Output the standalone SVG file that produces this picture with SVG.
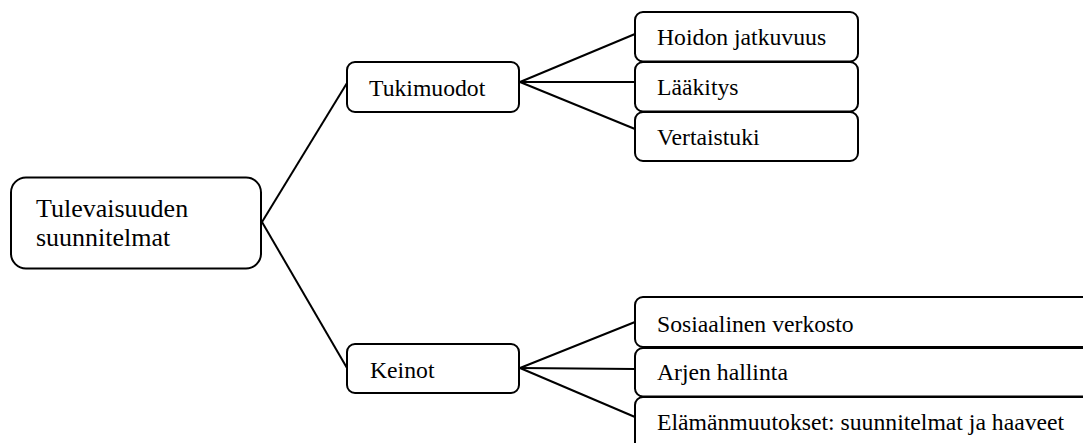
<svg xmlns="http://www.w3.org/2000/svg" width="1083" height="443" viewBox="0 0 1083 443">
<style>
.box{fill:#fff;stroke:#000;stroke-width:2}
.t{font-family:"Liberation Serif","Times New Roman",serif;font-size:23.7px;fill:#000}
.big{font-size:26px}
.edge{stroke:#000;stroke-width:2;fill:none}
</style>
<rect width="1083" height="443" fill="#fff"/>
<g id="connectors">
<line class="edge" x1="262" y1="222" x2="347" y2="83"/>
<line class="edge" x1="262" y1="222" x2="347" y2="368"/>
<line class="edge" x1="520" y1="82" x2="635" y2="34"/>
<line class="edge" x1="520" y1="82" x2="635" y2="82"/>
<line class="edge" x1="520" y1="82" x2="635" y2="129"/>
<line class="edge" x1="520" y1="368" x2="635" y2="322"/>
<line class="edge" x1="520" y1="368" x2="635" y2="369"/>
<line class="edge" x1="520" y1="368" x2="635" y2="417"/>
</g>
<g id="root">
<rect class="box" x="11" y="177.5" width="250" height="91" rx="15"/>
<text class="t big" x="36" y="217">Tulevaisuuden</text>
<text class="t big" x="36" y="246">suunnitelmat</text>
</g>
<g id="tukimuodot">
<rect class="box" x="347" y="62" width="172" height="50" rx="8"/>
<text class="t" x="369" y="96">Tukimuodot</text>
</g>
<g id="keinot">
<rect class="box" x="347" y="344" width="172" height="49" rx="8"/>
<text class="t" x="370" y="378">Keinot</text>
</g>
<g id="hoidon">
<rect class="box" x="635" y="12" width="223" height="49.5" rx="8"/>
<text class="t" x="657" y="45">Hoidon jatkuvuus</text>
</g>
<g id="laakitys">
<rect class="box" x="635" y="62" width="223" height="49.5" rx="8"/>
<text class="t" x="657" y="95">Lääkitys</text>
</g>
<g id="vertaistuki">
<rect class="box" x="635" y="112" width="223" height="49" rx="8"/>
<text class="t" x="657" y="145">Vertaistuki</text>
</g>
<g id="sosiaalinen">
<rect class="box" x="635" y="297" width="470" height="50" rx="8"/>
<text class="t" x="657" y="332">Sosiaalinen verkosto</text>
</g>
<g id="arjen">
<rect class="box" x="635" y="348" width="470" height="48.5" rx="8"/>
<text class="t" x="657" y="380">Arjen hallinta</text>
</g>
<g id="elamanmuutokset">
<rect class="box" x="635" y="397" width="470" height="60" rx="8"/>
<text class="t" x="657" y="430">Elämänmuutokset: suunnitelmat ja haaveet</text>
</g>
</svg>
